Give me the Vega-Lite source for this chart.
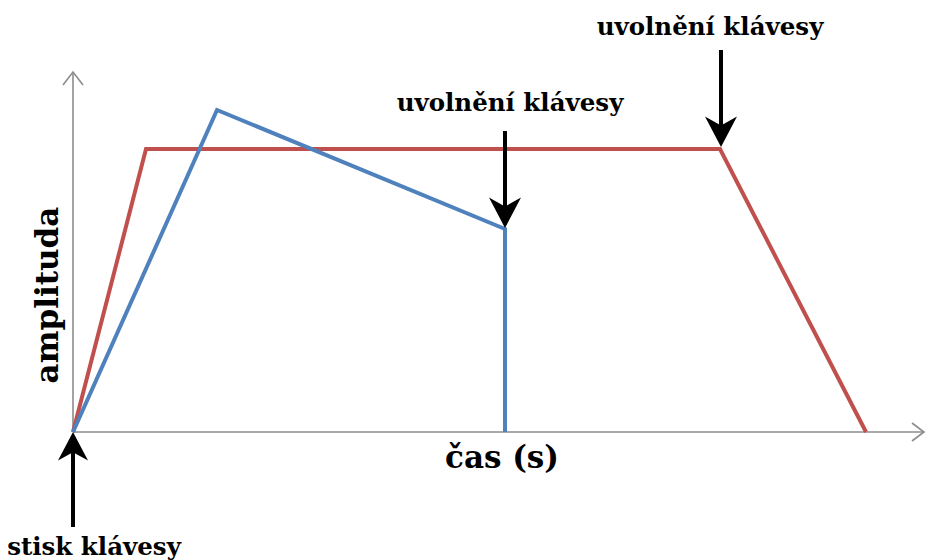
{
  "$schema": "https://vega.github.io/schema/vega-lite/v6.json",
  "width": 928,
  "height": 560,
  "padding": 0,
  "autosize": {"type": "fit", "contains": "padding"},
  "background": "white",
  "config": {"view": {"stroke": null}},
  "datasets": {
    "axes": [
      {"part": "x-axis", "i": 0, "t": 0, "a": 0},
      {"part": "x-axis", "i": 1, "t": 8.51, "a": 0},
      {"part": "y-axis", "i": 0, "t": 0, "a": 0},
      {"part": "y-axis", "i": 1, "t": 0, "a": 3.6},
      {"part": "x-head", "i": 0, "t": 8.39, "a": 0.09},
      {"part": "x-head", "i": 1, "t": 8.51, "a": 0},
      {"part": "x-head", "i": 2, "t": 8.39, "a": -0.09},
      {"part": "y-head", "i": 0, "t": -0.1, "a": 3.47},
      {"part": "y-head", "i": 1, "t": 0, "a": 3.6},
      {"part": "y-head", "i": 2, "t": 0.1, "a": 3.47}
    ],
    "envelopes": [
      {"series": "sustained", "i": 0, "t": 0, "a": 0},
      {"series": "sustained", "i": 1, "t": 0.73, "a": 2.83},
      {"series": "sustained", "i": 2, "t": 6.47, "a": 2.83},
      {"series": "sustained", "i": 3, "t": 7.93, "a": 0},
      {"series": "decaying", "i": 0, "t": 0, "a": 0},
      {"series": "decaying", "i": 1, "t": 1.44, "a": 3.22},
      {"series": "decaying", "i": 2, "t": 4.32, "a": 2.03},
      {"series": "decaying", "i": 3, "t": 4.32, "a": 0}
    ],
    "arrowsDown": [
      {"t": 4.32, "a1": 3.01, "a2": 2.2, "tip": 2.04},
      {"t": 6.48, "a1": 3.82, "a2": 3.0, "tip": 2.85}
    ],
    "arrowsUp": [
      {"t": 0, "a1": -0.95, "a2": -0.15, "tip": 0}
    ],
    "labels": [
      {"t": 4.37, "a": 3.21, "text": "uvolnění klávesy"},
      {"t": 6.37, "a": 3.97, "text": "uvolnění klávesy"},
      {"t": 0.21, "a": -1.23, "text": "stisk klávesy"}
    ],
    "xtitle": [{"t": 4.29, "a": -0.36, "text": "čas (s)"}],
    "ytitle": [{"t": -0.15, "a": 1.37, "text": "amplituda"}]
  },
  "encoding": {
    "x": {"field": "t", "type": "quantitative", "scale": {"domain": [-0.73, 8.55], "nice": false, "zero": false}, "axis": null},
    "y": {"field": "a", "type": "quantitative", "scale": {"domain": [-1.28, 4.32], "nice": false, "zero": false}, "axis": null}
  },
  "layer": [
    {
      "data": {"name": "axes"},
      "mark": {"type": "line", "color": "#8c8c8c", "strokeWidth": 1.6},
      "encoding": {
        "detail": {"field": "part"},
        "order": {"field": "i", "type": "quantitative"}
      }
    },
    {
      "data": {"name": "envelopes"},
      "mark": {"type": "line", "strokeWidth": 4, "strokeJoin": "miter"},
      "encoding": {
        "color": {"field": "series", "type": "nominal", "scale": {"domain": ["sustained", "decaying"], "range": ["#C0504D", "#4F81BD"]}, "legend": null},
        "order": {"field": "i", "type": "quantitative"}
      }
    },
    {
      "data": {"name": "arrowsDown"},
      "mark": {"type": "rule", "color": "black", "strokeWidth": 4},
      "encoding": {
        "y": {"field": "a1", "type": "quantitative"},
        "y2": {"field": "a2"}
      }
    },
    {
      "data": {"name": "arrowsDown"},
      "mark": {"type": "point", "filled": true, "color": "black", "opacity": 1, "size": 1024, "shape": "M0,0 L-1,-1.9 L0,-1.35 L1,-1.9 Z"},
      "encoding": {
        "y": {"field": "tip", "type": "quantitative"}
      }
    },
    {
      "data": {"name": "arrowsUp"},
      "mark": {"type": "rule", "color": "black", "strokeWidth": 4},
      "encoding": {
        "y": {"field": "a1", "type": "quantitative"},
        "y2": {"field": "a2"}
      }
    },
    {
      "data": {"name": "arrowsUp"},
      "mark": {"type": "point", "filled": true, "color": "black", "opacity": 1, "size": 900, "shape": "M0,0 L-1,1.9 L0,1.35 L1,1.9 Z"},
      "encoding": {
        "y": {"field": "tip", "type": "quantitative"}
      }
    },
    {
      "data": {"name": "labels"},
      "mark": {"type": "text", "font": "DejaVu Serif", "fontWeight": "bold", "fontSize": 24.5, "color": "black", "align": "center", "baseline": "alphabetic"},
      "encoding": {"text": {"field": "text"}}
    },
    {
      "data": {"name": "xtitle"},
      "mark": {"type": "text", "font": "DejaVu Serif", "fontWeight": "bold", "fontSize": 31, "color": "black", "align": "center", "baseline": "alphabetic"},
      "encoding": {"text": {"field": "text"}}
    },
    {
      "data": {"name": "ytitle"},
      "mark": {"type": "text", "font": "DejaVu Serif", "fontWeight": "bold", "fontSize": 31, "color": "black", "align": "center", "baseline": "alphabetic", "angle": 270},
      "encoding": {"text": {"field": "text"}}
    }
  ]
}
